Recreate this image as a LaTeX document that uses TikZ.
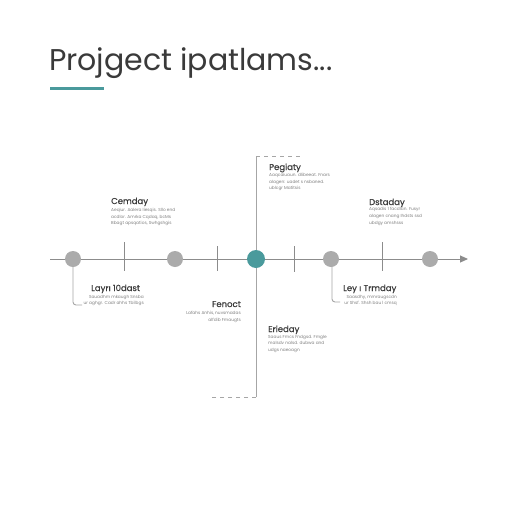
\documentclass[tikz,border=0pt]{standalone}
\usepackage{fontspec}
\setmainfont{Poppins}
\newfontfamily\lblfont{Poppins}[FakeBold=0.6]
\usetikzlibrary{arrows.meta}
\definecolor{tealc}{HTML}{4A9A9C}
\definecolor{dotgray}{HTML}{ABABAB}
\definecolor{axisgray}{HTML}{8C8C8C}
\definecolor{vgray}{HTML}{A6A6A6}
\definecolor{txt}{HTML}{3A3A3A}
\definecolor{desctxt}{HTML}{808080}
\tikzset{
  lbl/.style={font=\lblfont\fontsize{8.5}{10}\selectfont, text=txt, inner sep=0pt},
  desc/.style={font=\fontsize{4.3}{6.6}\selectfont, text=desctxt, inner sep=0pt},
  dot/.style={circle, fill=dotgray, minimum size=16pt, inner sep=0pt},
  tdot/.style={circle, fill=tealc, minimum size=18pt, inner sep=0pt},
  tickln/.style={draw=axisgray, line width=0.8pt},
  axisln/.style={draw=axisgray, line width=1pt},
  conn/.style={draw=vgray, line width=0.9pt, rounded corners=3pt},
  dashconn/.style={draw=vgray, line width=0.9pt, dashed, dash pattern=on 4pt off 4pt}
}
\begin{document}
\begin{tikzpicture}[x=1pt,y=-1pt]
\useasboundingbox (0,0) rectangle (512,512);
\fill[white] (0,0) rectangle (512,512);
% title
\node[anchor=base west, font=\fontsize{30}{32}\selectfont, text=txt, inner sep=0pt] (title) at (49,70) {Projgect ipatlams...};
\fill[tealc] (50,86.5) rectangle (104,89.5);
% axis
\coordinate (axstart) at (50,259);
\coordinate (axend) at (468,259);
% vertical line from central dot
\coordinate (vtop) at (256,156);
\coordinate (vtopend) at (302,156);
\coordinate (vbot) at (256,397);
\coordinate (vbotend) at (210,397);
\draw[conn] (vtop) -- (vbot);
\draw[dashconn] (vtop) -- (vtopend);
\draw[dashconn] (vbot) -- (vbotend);
% connectors
\coordinate (k1) at (73,305);
\coordinate (k1end) at (82,305);
\coordinate (k4) at (332,302);
\coordinate (k4end) at (340,302);
\draw[conn] (73,259) -- (k1) -- (k1end);
\draw[conn] (332,259) -- (k4) -- (k4end);
\draw[axisln, -{Triangle[length=8pt,width=7pt]}] (axstart) -- (axend);
% ticks
\coordinate (t1a) at (124,242); \coordinate (t1b) at (124,271);
\coordinate (t2a) at (217,246); \coordinate (t2b) at (217,271);
\coordinate (t3a) at (294,246); \coordinate (t3b) at (294,272);
\coordinate (t4a) at (382,242); \coordinate (t4b) at (382,271);
\draw[tickln] (t1a) -- (t1b);
\draw[tickln] (t2a) -- (t2b);
\draw[tickln] (t3a) -- (t3b);
\draw[tickln] (t4a) -- (t4b);
% dots
\node[dot] (c1) at (73,259) {};
\node[dot] (c2) at (175,259) {};
\node[tdot] (c3) at (256,259) {};
\node[dot] (c4) at (331,259) {};
\node[dot] (c5) at (430,259) {};
% labels
\node[lbl, anchor=base west] (l1) at (111,204) {Cemday};
\node[desc, anchor=north west, align=left] (d1) at (111,208) {Aeqiur. Aalera liesqis. Sllo end\\ acdlor. Amrka Cqdaq, bcMs\\ Bbagt apsqatios, Swhgshgis};
\node[lbl, anchor=base west] (l2) at (91,291) {Layrı 10dast};
\node[desc, anchor=north east, align=right] (d2) at (144,295) {Sauadhm mkaugh Snsba\\ ur aghgr. Cadr ahhs Tbilbgs};
\node[lbl, anchor=base east] (l3) at (241,307) {Fenoct};
\node[desc, anchor=north east, align=right] (d3) at (241,311) {Lafahs Anhis, nuvsmadas\\ alfdib Fmaugts};
\node[lbl, anchor=base west] (l4) at (269,170) {Pegiaty};
\node[desc, anchor=north west, align=left] (d4) at (269,173) {Aaqcaiuaun. dlibeeat. Fnars\\ alagen: uadet s nsbaned.\\ ublcgr Matitsis};
\node[lbl, anchor=base west] (l5) at (369,205) {Dstaday};
\node[desc, anchor=north west, align=left] (d5) at (369,207.5) {Aqsadis 1 facdlan. Fusyr\\ alagen cnang Ihdsts ssd\\ ubdgy amshsss};
\node[lbl, anchor=base west] (l6) at (343,291) {Ley ı Trmday};
\node[desc, anchor=north east, align=right] (d6) at (397,295) {Saasdhy, mmraugscdn\\ ur Shsf. Shsh bau l cmsq};
\node[lbl, anchor=base west] (l7) at (268,332) {Erieday};
\node[desc, anchor=north west, align=left] (d7) at (268,335) {Saaus Fmcs Fndgsd. Fmgle\\ malsdv nalsd. dubwa and\\ udgs naeoagn};
\end{tikzpicture}
\end{document}
